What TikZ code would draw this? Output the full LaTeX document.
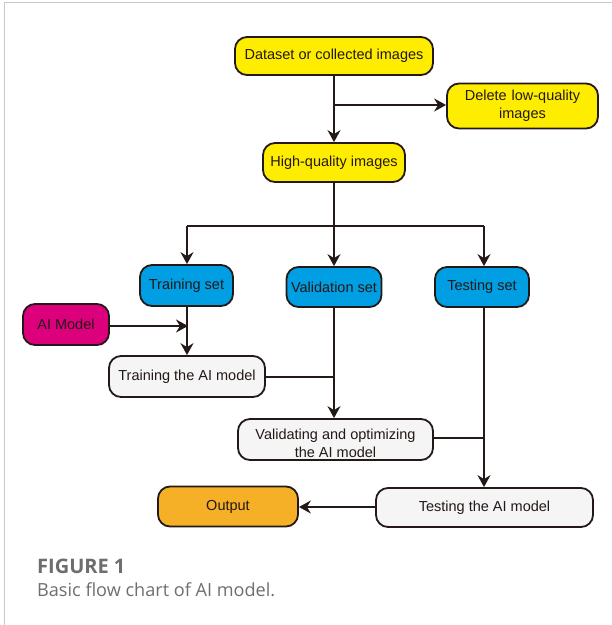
\documentclass[tikz,border=0pt]{standalone}
\usepackage{fontspec}
\setmainfont{Liberation Sans}
\newfontfamily\capfont{Open Sans}
\usetikzlibrary{arrows.meta,positioning}
\definecolor{yel}{RGB}{255,237,0}
\definecolor{blu}{RGB}{0,158,227}
\definecolor{mag}{RGB}{221,0,125}
\definecolor{org}{RGB}{245,176,40}
\definecolor{wht}{RGB}{245,245,245}
\definecolor{edge}{RGB}{35,25,22}
\definecolor{capgray}{RGB}{110,110,110}
\definecolor{bordgray}{RGB}{200,200,200}
\tikzset{
  box/.style={draw=edge, line width=1.8pt, rounded corners=12pt, align=center, font=\fontsize{14.5}{18}\selectfont, text=edge, inner sep=0pt},
  conn/.style={draw=edge, line width=1.8pt},
  arr/.style={conn, -{Stealth[length=12pt,width=13pt,inset=4pt]}},
}
\begin{document}
\begin{tikzpicture}[x=1pt,y=-1pt]
\useasboundingbox (0,0) rectangle (612,625);
\draw[bordgray, line width=1.2pt] (4.5,625) -- (4.5,2.5) -- (612,2.5);
\node[box, fill=yel, minimum width=198pt, minimum height=38pt] (ds) at (334,56) {Dataset or collected images};
\node[box, fill=yel, minimum width=151pt, minimum height=45pt, text width=145pt] (del) at (522.5,106) {Delete low-quality\\images};
\node[box, fill=yel, minimum width=142pt, minimum height=39pt] (hq) at (334,162.5) {High-quality images};
\node[box, fill=blu, minimum width=93pt, minimum height=41pt] (tr) at (186.5,285.5) {Training set};
\node[box, fill=blu, minimum width=95pt, minimum height=40pt] (va) at (334,287) {Validation set};
\node[box, fill=blu, minimum width=94pt, minimum height=40pt] (te) at (482,287) {Testing set};
\node[box, fill=mag, minimum width=86pt, minimum height=41pt] (ai) at (66,324.5) {AI Model};
\node[box, fill=wht, minimum width=156pt, minimum height=41pt] (tam) at (187,376.5) {Training the AI model};
\node[box, fill=wht, minimum width=195pt, minimum height=41pt] (vam) at (335.5,439.5) {};
\node[align=center, font=\fontsize{14.5}{18}\selectfont, text=edge, inner sep=0pt] (vamt) at (335.5,443) {Validating and optimizing\\the AI model};
\node[box, fill=wht, minimum width=217pt, minimum height=39pt] (tem) at (484.5,507.5) {Testing the AI model};
\node[box, fill=org, minimum width=140pt, minimum height=40pt] (out) at (228,506.5) {Output};
% connectors
\coordinate (j1) at (334,105);
\coordinate (j2) at (334,226);
\coordinate (jl) at (187,226);
\coordinate (jr) at (484,226);
\draw[conn] (ds.south) -- (j1);
\draw[arr] (j1) -- (del.west |- j1);
\draw[arr] (j1) -- (hq.north);
\draw[conn] (hq.south) -- (j2);
\draw[conn] (jl) -- (jr);
\draw[arr] (jl) -- (tr.north -| jl);
\draw[arr] (j2) -- (va.north);
\draw[arr] (jr) -- (te.north -| jr);
\draw[arr] (tr.south -| jl) -- (tam.north);
\draw[arr] (ai.east |- 0,326) -- (188,326);
\draw[arr] (va.south) -- (vam.north -| j2);
\draw[conn] (tam.east |- 0,377) -- (334,377);
\draw[arr] (te.south -| jr) -- (tem.north -| jr);
\draw[conn] (vam.east |- 0,438) -- (484,438);
\draw[arr] (tem.west |- 0,507) -- (out.east |- 0,507);
% caption
\node[anchor=base west, inner sep=0pt, text=capgray, font=\capfont\fontsize{20}{22}\selectfont\bfseries] (fig) at (37,573) {FIGURE 1};
\node[anchor=base west, inner sep=0pt, text=capgray, font=\capfont\fontsize{18.1}{21}\selectfont] (cap) at (37,596) {Basic flow chart of AI model.};
\end{tikzpicture}
\end{document}
